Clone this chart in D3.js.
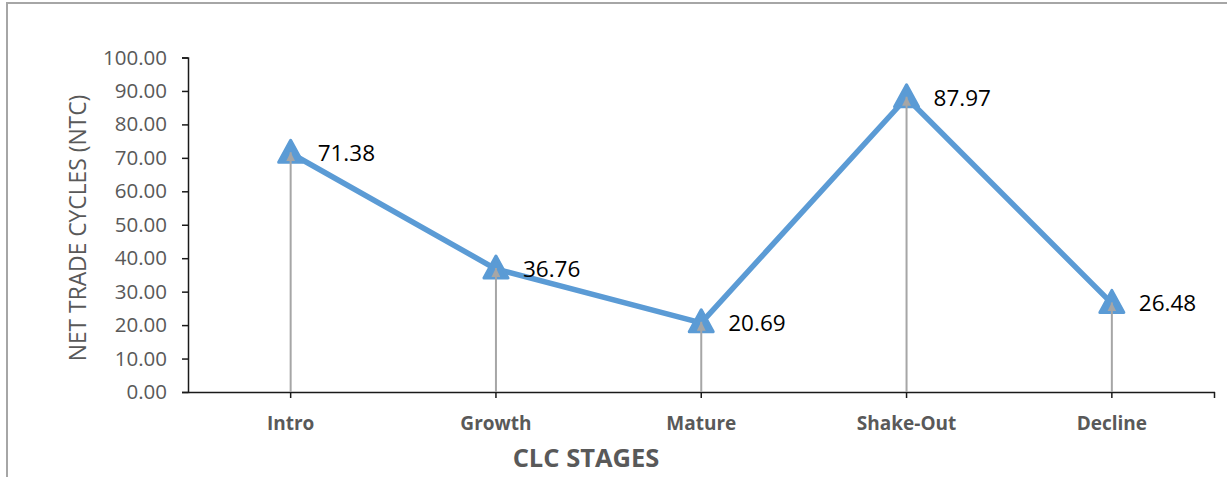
<!DOCTYPE html>
<html>
<head>
<meta charset="utf-8">
<script src="https://cdn.jsdelivr.net/npm/d3@7"></script>
<style>
  html, body { margin: 0; padding: 0; background: #fff; }
  svg { display: block; }
</style>
</head>
<body>
<svg id="chart" width="1227" height="477"></svg>
<script>
const categories = ["Intro", "Growth", "Mature", "Shake-Out", "Decline"];
const values = [71.38, 36.76, 20.69, 87.97, 26.48];
const valueLabels = ["71.38", "36.76", "20.69", "87.97", "26.48"];
const yTicks = [0, 10, 20, 30, 40, 50, 60, 70, 80, 90, 100];
const xTitle = "CLC STAGES";
const yTitle = "NET TRADE CYCLES (NTC)";

const W = 1227, H = 477;
const svg = d3.select("#chart");
const font = "'Open Sans', 'Noto Sans', sans-serif";
const blue = "#5b9bd5";
const grey = "#a6a6a6";
const textGrey = "#595959";

// outer frame (partially visible border)
svg.append("path")
  .attr("d", `M7,${H} L7,3 L${W},3`)
  .attr("fill", "none").attr("stroke", grey).attr("stroke-width", 2);

const x = d3.scaleBand().domain(categories).range([188, 1214.5]).padding(0);
const y = d3.scaleLinear().domain([0, 100]).range([392, 57.5]);
const cx = c => x(c) + x.bandwidth() / 2;

// Y axis
const yAxis = d3.axisLeft(y).tickValues(yTicks).tickFormat(d3.format(".2f")).tickSize(6).tickPadding(15);
const gy = svg.append("g").attr("transform", `translate(${x.range()[0]},0)`).call(yAxis);
gy.select(".domain").attr("stroke", "#1a1a1a").attr("stroke-width", 1.5);
gy.selectAll(".tick line").attr("stroke", "#1a1a1a").attr("stroke-width", 1.5);
gy.selectAll(".tick text").attr("fill", textGrey).style("font-family", font).style("font-size", "20.5px");

// X axis
const xAxis = d3.axisBottom(x).tickSize(6).tickSizeOuter(0).tickPadding(19);
const gx = svg.append("g").attr("transform", `translate(0,${y(0)})`).call(xAxis);
gx.select(".domain").attr("stroke", "#1a1a1a").attr("stroke-width", 1.5);
gx.selectAll(".tick line").attr("stroke", "#1a1a1a").attr("stroke-width", 1.5);
gx.selectAll(".tick text").attr("fill", textGrey).style("font-family", font)
  .style("font-size", "19px").style("font-weight", "bold");
// right end tick
gx.append("line").attr("x1", x.range()[1]).attr("x2", x.range()[1]).attr("y1", 0).attr("y2", 6)
  .attr("stroke", "#1a1a1a").attr("stroke-width", 1.5);

// axis titles
svg.append("text").attr("x", 586).attr("y", 467).attr("text-anchor", "middle")
  .attr("fill", textGrey).style("font-family", font).style("font-size", "25.5px").style("font-weight", "bold")
  .text(xTitle);
svg.append("text").attr("transform", "translate(86,228) rotate(-90)").attr("text-anchor", "middle")
  .attr("fill", textGrey).style("font-family", font).style("font-size", "22.8px")
  .text(yTitle);

// series line
const line = d3.line().x((d, i) => cx(categories[i])).y(d => y(d));
svg.append("path").datum(values).attr("d", line)
  .attr("fill", "none").attr("stroke", blue).attr("stroke-width", 5.5).attr("stroke-linejoin", "round");

// triangle markers
svg.selectAll(".marker").data(values).enter().append("path")
  .attr("class", "marker")
  .attr("d", (d, i) => {
    const px = cx(categories[i]), py = y(d);
    return `M${px},${py - 13} L${px + 12},${py + 9} L${px - 12},${py + 9} Z`;
  })
  .attr("fill", blue).attr("stroke", blue).attr("stroke-width", 3).attr("stroke-linejoin", "round");

// drop lines with arrowheads
const defs = svg.append("defs");
defs.append("marker").attr("id", "arrow").attr("viewBox", "0 0 10 10")
  .attr("refX", 10).attr("refY", 5).attr("markerWidth", 4.5).attr("markerHeight", 4.5)
  .attr("markerUnits", "strokeWidth").attr("orient", "auto")
  .append("path").attr("d", "M0,0 L10,5 L0,10 Z").attr("fill", grey);
svg.selectAll(".drop").data(values).enter().append("line")
  .attr("class", "drop")
  .attr("x1", (d, i) => cx(categories[i])).attr("x2", (d, i) => cx(categories[i]))
  .attr("y1", y(0)).attr("y2", d => y(d) - 1)
  .attr("stroke", grey).attr("stroke-width", 2).attr("marker-end", "url(#arrow)");

// data labels
svg.selectAll(".lbl").data(values).enter().append("text")
  .attr("class", "lbl")
  .attr("x", (d, i) => cx(categories[i]) + 27).attr("y", d => y(d) + 2)
  .attr("dominant-baseline", "middle")
  .attr("fill", "#000").style("font-family", font).style("font-size", "22.5px")
  .text((d, i) => valueLabels[i]);
</script>
</body>
</html>
